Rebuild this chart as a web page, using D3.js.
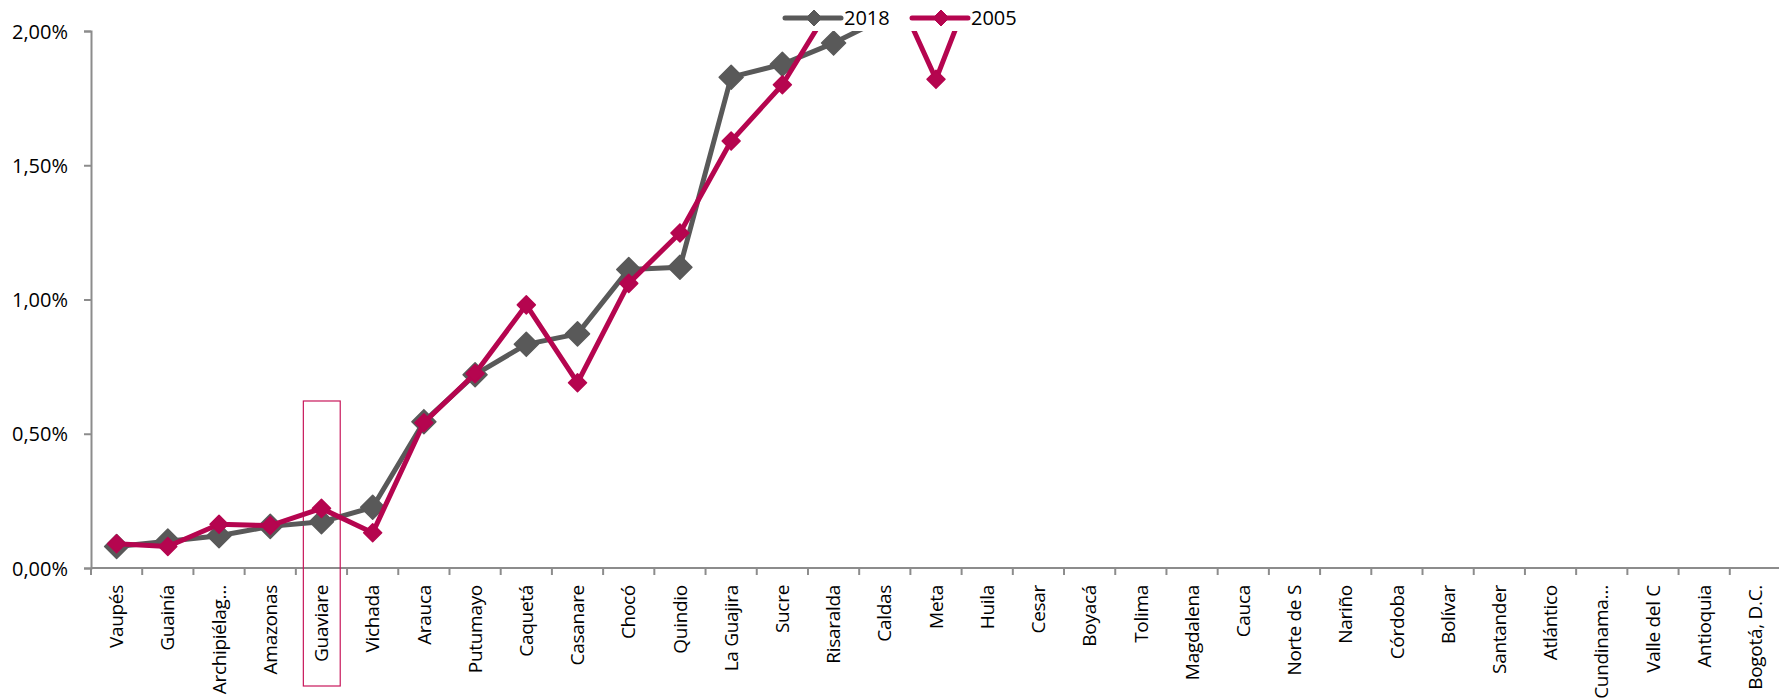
<!DOCTYPE html>
<html>
<head>
<meta charset="utf-8">
<script src="https://cdn.jsdelivr.net/npm/d3@7"></script>
<style>
  body { margin: 0; background: #fff; }
  text { font-family: "Open Sans", "Noto Sans", sans-serif; fill: #000; }
</style>
</head>
<body>
<script>
var departamentos = ["Vaupés", "Guainía", "Archipiélag…", "Amazonas", "Guaviare", "Vichada",
  "Arauca", "Putumayo", "Caquetá", "Casanare", "Chocó", "Quindio", "La Guajira", "Sucre",
  "Risaralda", "Caldas", "Meta", "Huila", "Cesar", "Boyacá", "Tolima", "Magdalena", "Cauca",
  "Norte de S", "Nariño", "Córdoba", "Bolívar", "Santander", "Atlántico", "Cundinama…",
  "Valle del C", "Antioquia", "Bogotá, D.C."];

// participación (%) – los valores por encima de 2% quedan fuera del área visible
var val2018 = [0.08, 0.10, 0.12, 0.155, 0.172, 0.226, 0.545, 0.72, 0.833, 0.872, 1.112, 1.12,
  1.828, 1.876, 1.955, 2.05, null, null, null, null, null, null, null, null, null, null, null,
  null, null, null, null, null, null];
var val2005 = [0.09, 0.08, 0.163, 0.158, 0.222, 0.131, 0.541, 0.724, 0.98, 0.69, 1.06, 1.248,
  1.59, 1.80, 2.11, 2.24, 1.82, 2.31, null, null, null, null, null, null, null, null, null,
  null, null, null, null, null, null];

var yTicks = [0, 0.5, 1.0, 1.5, 2.0];
var resaltado = "Guaviare";

var series = [
  {name: "2018", values: val2018, color: "#595959", marker: 12, legendX: 785},
  {name: "2005", values: val2005, color: "#B5054F", marker: 9, legendX: 912}
];

var margin = {top: 31, left: 91},
    width = 1690,
    height = 537;

var loc = d3.formatLocale({decimal: ",", thousands: ".", grouping: [3], currency: ["", ""]});
var fmt = loc.format(".2f");

var svg = d3.select("body").append("svg")
    .attr("width", 1779)
    .attr("height", 700);

var g = svg.append("g")
    .attr("transform", "translate(" + margin.left + "," + margin.top + ")");

var x = d3.scaleBand().domain(departamentos).range([0, width]).padding(0);
var y = d3.scaleLinear().domain([0, 2]).range([height, 0]);

g.append("clipPath").attr("id", "plot")
  .append("rect").attr("x", 0).attr("y", 0).attr("width", width).attr("height", height + 20);

// eje Y
var yAxis = d3.axisLeft(y).tickValues(yTicks).tickSize(7).tickPadding(16)
    .tickFormat(function(d) { return fmt(d) + "%"; });
var gy = g.append("g").call(yAxis);
gy.select(".domain").attr("stroke", "#8c8c8c").attr("stroke-width", 2);
gy.selectAll(".tick line").attr("stroke", "#8c8c8c").attr("stroke-width", 2);
gy.selectAll(".tick text").style("font-size", "20px").attr("dy", "0.35em");

// eje X: línea, marcas entre categorías y etiquetas giradas
var gx = g.append("g").attr("transform", "translate(0," + height + ")");
gx.append("line")
    .attr("x1", 0).attr("x2", width)
    .attr("stroke", "#8c8c8c").attr("stroke-width", 2);
gx.selectAll(".tk").data(departamentos).enter().append("line")
    .attr("x1", function(d) { return x(d); })
    .attr("x2", function(d) { return x(d); })
    .attr("y1", 0).attr("y2", 7)
    .attr("stroke", "#8c8c8c").attr("stroke-width", 2);
gx.selectAll(".lbl").data(departamentos).enter().append("text")
    .attr("transform", function(d) {
      return "translate(" + (x(d) + x.bandwidth() / 2) + ",17) rotate(-90)";
    })
    .attr("dy", "0.35em")
    .style("text-anchor", "end")
    .style("font-size", "19px")
    .style("letter-spacing", "-0.3px")
    .text(function(d) { return d; });

// recuadro de resaltado
g.append("rect")
    .attr("x", x(resaltado) + 7.5)
    .attr("y", y(0.622))
    .attr("width", x.bandwidth() * 0.72)
    .attr("height", height - y(0.622) + 118)
    .attr("fill", "none")
    .attr("stroke", "#C8175A")
    .attr("stroke-width", 1.2);

var diamond = function(s) {
  return "M0," + (-s) + "L" + s + ",0L0," + s + "L" + (-s) + ",0Z";
};

var plot = g.append("g").attr("clip-path", "url(#plot)");

series.forEach(function(s) {
  var pts = departamentos.map(function(d, i) { return {cat: d, v: s.values[i]}; });

  plot.append("path")
      .datum(pts)
      .attr("fill", "none")
      .attr("stroke", s.color)
      .attr("stroke-width", 5)
      .attr("stroke-linejoin", "round")
      .attr("d", d3.line()
        .defined(function(d) { return d.v != null; })
        .x(function(d) { return x(d.cat) + x.bandwidth() / 2; })
        .y(function(d) { return y(d.v); }));

  plot.selectAll(null)
      .data(pts.filter(function(d) { return d.v != null; }))
      .enter().append("path")
      .attr("d", diamond(s.marker))
      .attr("fill", s.color)
      .attr("stroke", s.color)
      .attr("stroke-width", 1.5)
      .attr("stroke-linejoin", "round")
      .attr("transform", function(d) {
        return "translate(" + (x(d.cat) + x.bandwidth() / 2) + "," + y(d.v) + ")";
      });
});

// leyenda
series.forEach(function(s) {
  var lg = svg.append("g").attr("transform", "translate(" + s.legendX + ",18)");
  lg.append("line")
      .attr("x1", 0).attr("x2", 56)
      .attr("stroke", s.color).attr("stroke-width", 5)
      .attr("stroke-linecap", "round");
  lg.append("path")
      .attr("d", diamond(8))
      .attr("fill", s.color)
      .attr("stroke", s.color)
      .attr("stroke-linejoin", "round")
      .attr("transform", "translate(29,0)");
  lg.append("text")
      .attr("x", 59).attr("y", 0)
      .attr("dy", "0.36em")
      .style("font-size", "20px")
      .text(s.name);
});
</script>
</body>
</html>
